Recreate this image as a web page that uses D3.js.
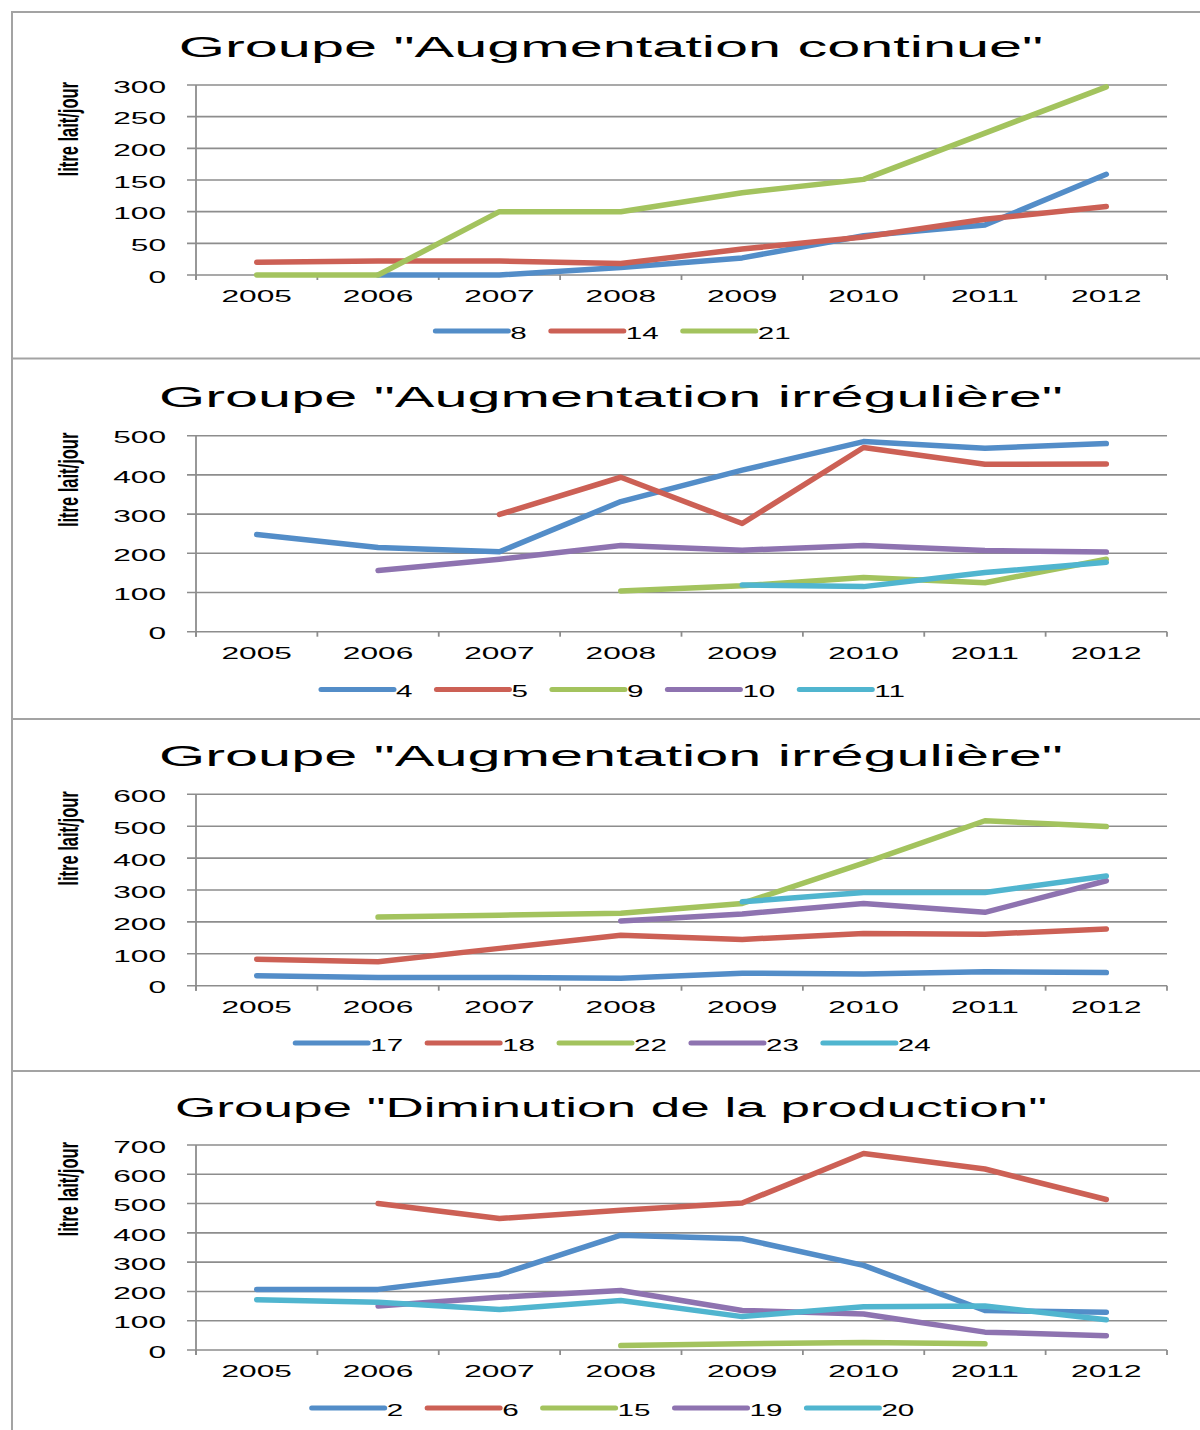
<!DOCTYPE html>
<html><head><meta charset="utf-8">
<script src="https://cdn.jsdelivr.net/npm/d3@7"></script>
<style>
body{margin:0;background:#fff}
svg{display:block}
text{font-family:"Liberation Sans",Arial,Helvetica,sans-serif;fill:#000}
</style>
</head><body>
<svg id="c" width="1200" height="1430"></svg>
<script>
// ---------- DATA ----------
const years = ["2005","2006","2007","2008","2009","2010","2011","2012"];
const titles = [
  'Groupe "Augmentation continue"',
  'Groupe "Augmentation irrégulière"',
  'Groupe "Augmentation irrégulière"',
  'Groupe "Diminution de la production"'
];
const yAxisTitle = "litre lait/jour";
const yMaxes = [300, 500, 600, 700];
const ySteps = [50, 100, 100, 100];

// Groupe "Augmentation continue"
const g1Names = ["8", "14", "21"];
const g1_8  = [null, 0, 0, 12, 27, 62, 79, 159];
const g1_14 = [20, 22, 22, 18, 41, 60, 88, 108];
const g1_21 = [0, 0, 100, 100, 130, 151, 224, 297];

// Groupe "Augmentation irrégulière" (1)
const g2Names = ["4", "5", "9", "10", "11"];
const g2_4  = [248, 215, 204, 332, 412, 485, 468, 480];
const g2_5  = [null, null, 299, 394, 276, 470, 427, 428];
const g2_9  = [null, null, null, 104, 117, 138, 125, 185];
const g2_10 = [null, 156, 185, 220, 208, 220, 207, 203];
const g2_11 = [null, null, null, null, 119, 115, 151, 177];

// Groupe "Augmentation irrégulière" (2)
const g3Names = ["17", "18", "22", "23", "24"];
const g3_17 = [31, 26, 26, 23, 39, 37, 44, 41];
const g3_18 = [83, 75, 117, 158, 145, 164, 161, 178];
const g3_22 = [null, 215, 221, 227, 258, 384, 517, 499];
const g3_23 = [null, null, null, 203, 225, 258, 230, 329];
const g3_24 = [null, null, null, null, 263, 292, 292, 344];

// Groupe "Diminution de la production"
const g4Names = ["2", "6", "15", "19", "20"];
const g4_2  = [207, 207, 257, 392, 380, 289, 135, 129];
const g4_6  = [null, 500, 449, 477, 502, 671, 618, 514];
const g4_15 = [null, null, null, 15, 21, 26, 21, null];
const g4_19 = [null, 150, 180, 203, 135, 123, 61, 49];
const g4_20 = [172, 163, 138, 169, 114, 148, 150, 103];

const colors = ["#538dc8", "#cc6055", "#a3c35e", "#8e73b0", "#50b5cf"];

const groups = [
  {names: g1Names, values: [g1_8, g1_14, g1_21]},
  {names: g2Names, values: [g2_4, g2_5, g2_9, g2_10, g2_11]},
  {names: g3Names, values: [g3_17, g3_18, g3_22, g3_23, g3_24]},
  {names: g4Names, values: [g4_2, g4_6, g4_15, g4_19, g4_20]}
];

// ---------- LAYOUT ----------
const S = 1.98;            // horizontal text stretch of the reference
const SL = 1.85;           // legend text stretch
const plotLeft = 196, plotRight = 1167, tickOut = 9;
const layout = [
  {titleY: 57,   titleSize: 30,   top: 85,    bottom: 275,   xlabY: 302,  legY: 331},
  {titleY: 407,  titleSize: 30,   top: 435.7, bottom: 631.7, xlabY: 659,  legY: 689.5},
  {titleY: 766,  titleSize: 30,   top: 794.3, bottom: 985.7, xlabY: 1013, legY: 1043},
  {titleY: 1117, titleSize: 26.8, top: 1145,  bottom: 1350,  xlabY: 1377, legY: 1408}
];
const separators = [12, 358.5, 719, 1071];

const svg = d3.select("#c");
const gridColor = "#8d8d8d";

// frame
separators.forEach(y => svg.append("line")
  .attr("x1", 11).attr("x2", 1200).attr("y1", y).attr("y2", y)
  .attr("stroke", "#a3a3a3").attr("stroke-width", 2));
svg.append("line").attr("x1", 12).attr("x2", 12).attr("y1", 11).attr("y2", 1430)
  .attr("stroke", "#a3a3a3").attr("stroke-width", 2);

function stretchedText(g, x, y, str, size, anchor, sx) {
  return g.append("text")
    .attr("transform", `translate(${x},${y}) scale(${sx || S},1)`)
    .attr("text-anchor", anchor)
    .attr("font-size", size)
    .text(str);
}

groups.forEach((grp, gi) => {
  const L = layout[gi];
  const g = svg.append("g");

  const xBand = d3.scaleBand().domain(years).range([plotLeft, plotRight]);
  const x = d3.scalePoint().domain(years).range([plotLeft, plotRight]).padding(0.5);
  const y = d3.scaleLinear().domain([0, yMaxes[gi]]).range([L.bottom, L.top]);
  const ticks = d3.range(0, yMaxes[gi] + 1, ySteps[gi]);

  // title
  stretchedText(g, 611, L.titleY, titles[gi], L.titleSize, "middle");

  // gridlines (incl. baseline) extending left as tick marks
  g.selectAll("line.grid").data(ticks).join("line")
    .attr("x1", plotLeft - tickOut).attr("x2", plotRight)
    .attr("y1", d => y(d)).attr("y2", d => y(d))
    .attr("stroke", gridColor).attr("stroke-width", 1.6);

  // y axis line
  g.append("line").attr("x1", plotLeft).attr("x2", plotLeft)
    .attr("y1", L.top).attr("y2", L.bottom + 5)
    .attr("stroke", gridColor).attr("stroke-width", 1.8);

  // x ticks at category boundaries
  const bounds = years.map(d => xBand(d)).concat([plotRight]);
  g.selectAll("line.xt").data(bounds).join("line")
    .attr("x1", d => d).attr("x2", d => d)
    .attr("y1", L.bottom).attr("y2", L.bottom + 5)
    .attr("stroke", gridColor).attr("stroke-width", 1.8);

  // y tick labels
  ticks.forEach(t => stretchedText(g, 166, y(t) + 7.7, String(t), 16, "end"));

  // x tick labels
  years.forEach(yr => stretchedText(g, x(yr), L.xlabY, yr, 16, "middle"));

  // y axis title (rotated)
  g.append("text")
    .attr("transform", `translate(78,${L.top - 3}) rotate(-90) scale(1,1.7)`)
    .attr("text-anchor", "end")
    .attr("font-size", 16.5)
    .attr("font-weight", "bold")
    .text(yAxisTitle);

  // series lines
  const line = d3.line()
    .defined(d => d.v != null)
    .x(d => x(d.year)).y(d => y(d.v));
  grp.values.forEach((vals, si) => {
    const pts = years.map((yr, i) => ({year: yr, v: vals[i]}));
    g.append("path").datum(pts)
      .attr("d", line)
      .attr("fill", "none")
      .attr("stroke", colors[si])
      .attr("stroke-width", 5.5)
      .attr("stroke-linecap", "round")
      .attr("stroke-linejoin", "round");
  });

  // legend
  const lg = g.append("g");
  let cx = 0;
  const lineLen = 73, gap1 = 2, gap2 = 24;
  grp.names.forEach((nm, si) => {
    lg.append("line")
      .attr("x1", cx).attr("x2", cx + lineLen)
      .attr("y1", L.legY).attr("y2", L.legY)
      .attr("stroke", colors[si]).attr("stroke-width", 5)
      .attr("stroke-linecap", "round");
    cx += lineLen + gap1;
    const t = stretchedText(lg, cx, L.legY + 7.5, nm, 16, "start", SL);
    const w = t.node().getComputedTextLength() * SL;
    cx += w + gap2;
  });
  const total = cx - gap2;
  lg.attr("transform", `translate(${613 - total / 2},0)`);
});
</script>
</body></html>
